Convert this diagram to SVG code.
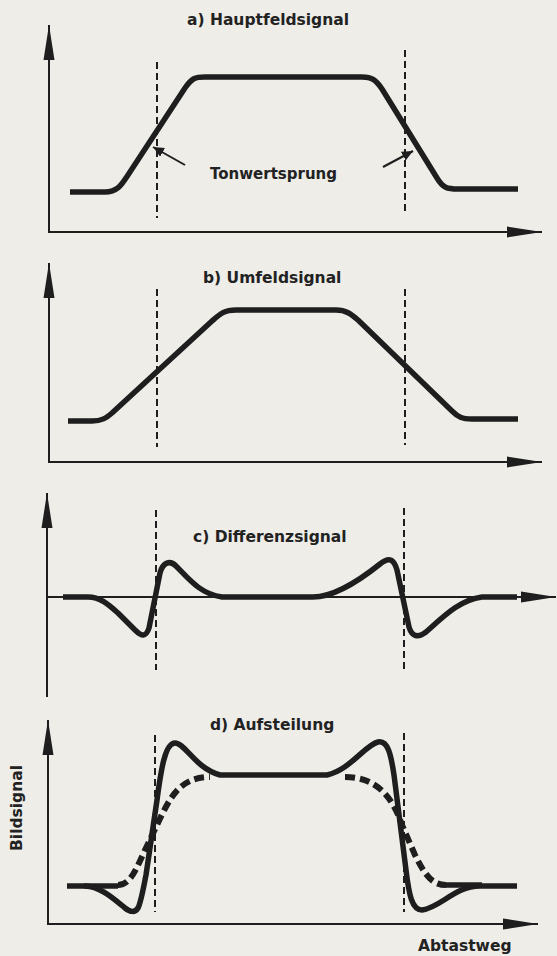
<svg xmlns="http://www.w3.org/2000/svg" width="557" height="956" viewBox="0 0 557 956">
<style>
.bg{fill:#eeede8}
.axis{stroke:#1e1e1e;stroke-width:2;fill:none}
.dash{stroke:#1e1e1e;stroke-width:2;stroke-dasharray:7 4;fill:none}
.sig{stroke:#1e1e1e;stroke-width:5.5;fill:none;stroke-linecap:butt;stroke-linejoin:round}
.sigd{stroke:#1e1e1e;stroke-width:6;fill:none;stroke-dasharray:10 5}
.ptr{stroke:#1e1e1e;stroke-width:2;fill:none}
text{font-family:"DejaVu Sans","Liberation Sans",sans-serif;font-weight:bold;font-size:15.5px;fill:#222}
</style>
<defs>
<marker id="ah" markerUnits="userSpaceOnUse" markerWidth="36" markerHeight="12" refX="35" refY="6" orient="auto">
<path d="M0,0.5 L35,6 L0,11.5 z" fill="#1e1e1e"/>
</marker>
<marker id="sh" markerUnits="userSpaceOnUse" markerWidth="12" markerHeight="10" refX="11" refY="5" orient="auto">
<path d="M0,0 L11,5 L0,10 z" fill="#1e1e1e"/>
</marker>
</defs>
<rect class="bg" x="0" y="0" width="557" height="956"/>

<g id="panel-a">
<text x="187" y="25">a) Hauptfeldsignal</text>
<path class="dash" d="M157,62 V218"/>
<path class="dash" d="M405,50 V213"/>
<path class="sig" d="M70,192 L105,192 C118,192 122,184 128,175 L185,88 C192,78 195,77 205,77 L362,77 C372,77 376,80 382,89 L437,178 C443,188 447,189 458,189 L518,189"/>
<text x="210" y="179" style="font-size:15px">Tonwertsprung</text>
</g>

<g id="panel-b">
<text x="203" y="283">b) Umfeldsignal</text>
<path class="dash" d="M157,289 V447"/>
<path class="dash" d="M405,289 V445"/>
<path class="sig" d="M68,421 L92,421 C102,421 106,418 112,413 L212,321 C220,314 224,310 236,310 L336,310 C346,310 351,314 358,320 L452,411 C458,417 462,419 472,419 L518,419"/>
</g>

<g id="panel-c">
<text x="193" y="542">c) Differenzsignal</text>
<path class="dash" d="M156,510 V670"/>
<path class="dash" d="M404,508 V673"/>
<path class="sig" d="M63,597 L88,597 C100,597 108,604 118,613 L135,630 C142,637 146,637 149,628 L160,573 C163,562 170,560 176,566 C188,578 200,594 222,597 L313,597 C335,597 360,580 380,564 C390,556 394,560 397,570 L409,627 C412,637 418,638 426,632 C445,615 460,600 482,597 L517,597"/>
</g>

<g id="panel-d">
<text x="210" y="730">d) Aufsteilung</text>
<path class="dash" d="M155,735 V912"/>
<path class="dash" d="M404,733 V912"/>
<path class="sig" d="M67,886 L85,886 C100,886 115,900 125,908 C130,912 135,913 138,908 C141,902 143,890 146,875 L157,800 C161,770 165,743 175,743 C185,743 195,768 220,775 L327,775 C350,770 365,745 378,742 C388,740 391,755 394,775 L406,870 C409,895 412,910 422,910 C440,908 455,886 480,886 L517,886"/>
<path class="sig" d="M84,886 H118"/>
<path class="sig" d="M446,885 H482"/>
<path class="sigd" d="M118,885 C130,885 136,870 145,850 L157,825 C170,797 180,777 210,777"/>
<path class="sigd" d="M345,777 C375,777 392,795 402,825 L415,855 C425,875 432,885 446,885"/>
<text x="418" y="951">Abtastweg</text>
<text transform="translate(22,808) rotate(-90)" text-anchor="middle">Bildsignal</text>
</g>

<g id="connectors">
<path class="axis" d="M49,233 V25" marker-end="url(#ah)"/>
<path class="axis" d="M48,232 H542" marker-end="url(#ah)"/>
<path class="axis" d="M49,463 V263" marker-end="url(#ah)"/>
<path class="axis" d="M48,462 H542" marker-end="url(#ah)"/>
<path class="axis" d="M47,697 V493" marker-end="url(#ah)"/>
<path class="axis" d="M47,597 H556" marker-end="url(#ah)"/>
<path class="axis" d="M48,925 V720" marker-end="url(#ah)"/>
<path class="axis" d="M47,924 H538" marker-end="url(#ah)"/>
<path class="ptr" d="M185,165 L153,147" marker-end="url(#sh)"/>
<path class="ptr" d="M383,167 L413,151" marker-end="url(#sh)"/>
</g>
</svg>
